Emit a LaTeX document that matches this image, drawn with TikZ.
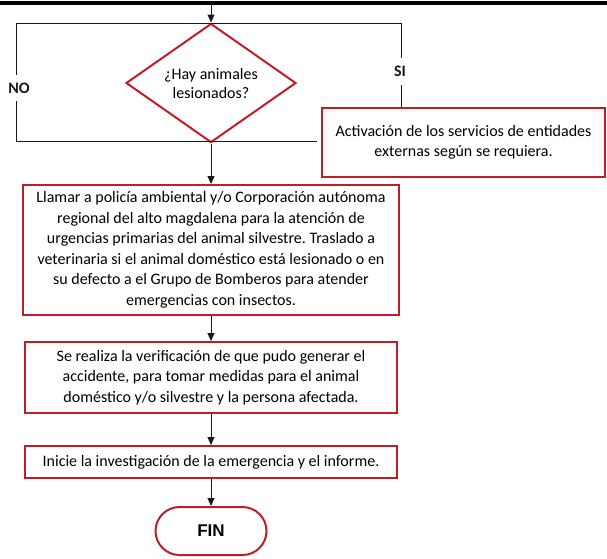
\documentclass[tikz,border=0pt]{standalone}
\usepackage{fontspec}
\setmainfont{Carlito}
\newfontfamily\finfont{Liberation Sans}
\usetikzlibrary{arrows.meta,positioning,shapes.geometric}
\definecolor{boxRed}{RGB}{190,30,40}
\definecolor{lineK}{RGB}{25,25,25}
\frenchspacing

\begin{document}
\begin{tikzpicture}[x=1pt,y=-1pt,font=\fontsize{16}{20.5}\selectfont]
  \tikzset{stepbox/.style={draw=boxRed,line width=2pt,fill=white,minimum width=#1,align=center,inner sep=0pt},
    flow/.style={-{Triangle[length=8pt,width=7pt]},line width=1pt,lineK},
    wire/.style={line width=1pt,lineK},
    tag/.style={fill=white,font=\fontsize{16}{18}\selectfont\bfseries,inner xsep=1pt,inner ysep=8pt}}
  \useasboundingbox (0,0) rectangle (607,558);
  \draw[line width=3.5pt] (0,3) -- (607,3);
  \coordinate (start) at (211,3);
  \node[draw=boxRed,line width=2pt,diamond,aspect=1.43,minimum width=170pt,minimum height=119pt,inner sep=0pt,align=center,font=\fontsize{16}{19}\selectfont] (q) at (211,83) {¿Hay animales\\lesionados?};
  \node[stepbox=283pt,minimum height=69pt] (act) at (463.5,142.5) {Activación de los servicios de entidades\\externas según se requiera.};
  \node[stepbox=376pt,minimum height=130pt] (b1) at (211,250) {Llamar a policía ambiental y/o Corporación autónoma\\regional del alto magdalena para la atención de\\urgencias primarias del animal silvestre. Traslado a\\veterinaria si el animal doméstico está lesionado o en\\su defecto a el Grupo de Bomberos para atender\\emergencias con insectos.};
  \node[stepbox=372pt,minimum height=71pt] (b2) at (211,377.5) {Se realiza la verificación de que pudo generar el\\accidente, para tomar medidas para el animal\\doméstico y/o silvestre y la persona afectada.};
  \node[stepbox=372pt,minimum height=32pt] (b3) at (211,462) {Inicie la investigación de la emergencia y el informe.};
  \node[stepbox=111pt,minimum height=48pt,rounded corners=24pt,font=\finfont\fontsize{17}{20}\selectfont\bfseries] (fin) at (211,531) {FIN};
  % branches round the question
  \coordinate (nw) at (16,23);
  \coordinate (ne) at (401,23);
  \coordinate (sw) at (16,141);
  \draw[wire] (nw) -- (ne);
  \draw[flow] (start) -- (q.north);
  \draw[wire,shorten >=4pt] (nw) -- node[tag,pos=0.55,xshift=3pt] {NO} (sw) -- (sw -| act.west);
  \draw[wire] (ne) -- node[tag,pos=0.58,xshift=-1pt] {SI} (ne |- act.north);
  \foreach \a/\b in {q/b1,b1/b2,b2/b3,b3/fin} {
    \draw[flow] (\a) -- (\b);
  }
\end{tikzpicture}
\end{document}
